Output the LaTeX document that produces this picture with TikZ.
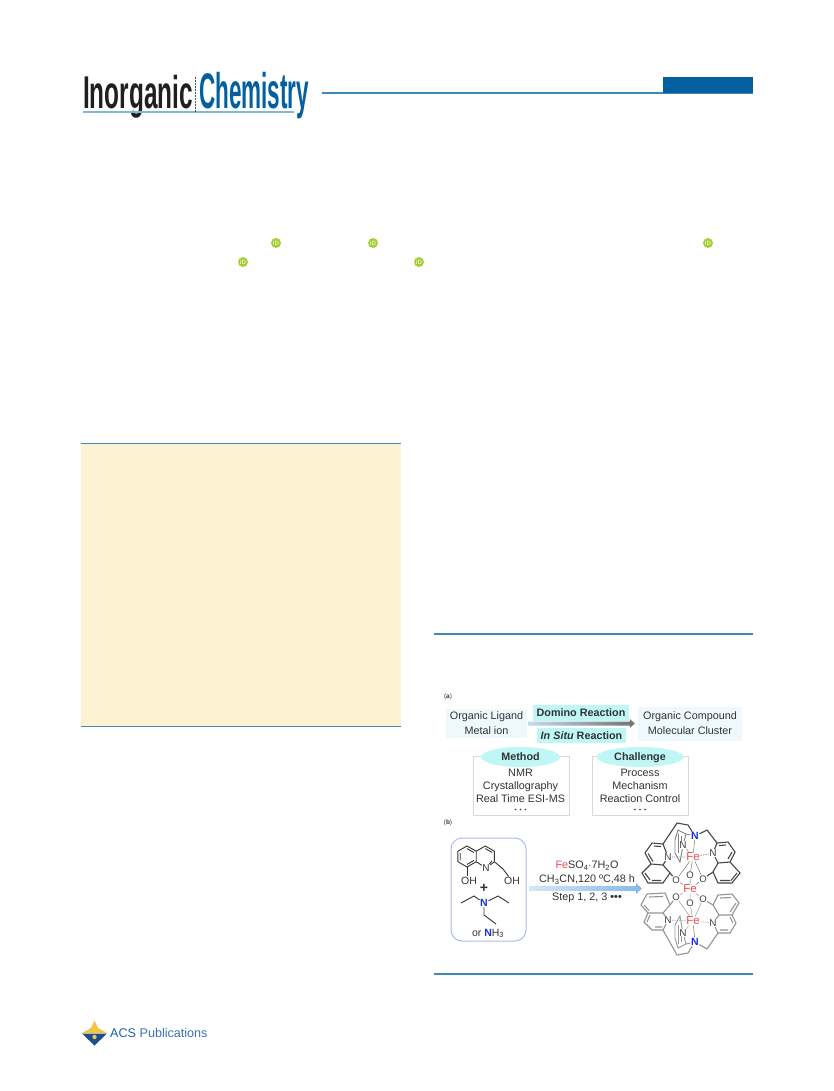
\documentclass[tikz,border=0pt]{standalone}
\usepackage{xcolor}
\usepackage{amsmath}
\usepackage{fontspec}
\setmainfont{Liberation Sans}
\usetikzlibrary{positioning,shapes,arrows,calc}

\definecolor{acsblue}{HTML}{045F9F}
\definecolor{rulecol}{HTML}{3F87B5}
\definecolor{titleline}{HTML}{7DB9D6}
\definecolor{paleblue}{HTML}{EFF8FD}
\definecolor{cyanbox}{HTML}{BFF6F6}
\definecolor{inktxt}{HTML}{333333}
\definecolor{nblue}{HTML}{1A2FE0}
\definecolor{fered}{HTML}{F0474F}
\definecolor{creamfill}{HTML}{FDF2D2}
\definecolor{orcidgreen}{HTML}{A6CE39}
\definecolor{roundline}{HTML}{AEB8F5}
\definecolor{arrowpale}{HTML}{D3E7F7}
\definecolor{arrowsky}{HTML}{86B9EA}
\definecolor{arrowstart}{HTML}{C3DBF0}
\definecolor{logogold}{HTML}{F5C542}
\definecolor{logonavy}{HTML}{1F4E8C}
\definecolor{acstext}{HTML}{1F5FA8}
\definecolor{pubtext}{HTML}{3B73B5}

\tikzset{
  pale/.style={fill=paleblue, align=center, inner sep=0pt, text=inktxt, font=\fontsize{10.8}{15}\selectfont},
  cyanlabel/.style={fill=cyanbox, inner sep=0pt, text=inktxt, font=\fontsize{10.8}{13}\selectfont\bfseries},
  cyanoval/.style={ellipse, fill=cyanbox, inner sep=0pt, text=inktxt, text height=8pt, text depth=2pt, font=\fontsize{10.8}{13}\selectfont\bfseries},
  listbox/.style={draw=black!15, line width=1pt, fill=white},
  listtxt/.style={align=center, text=inktxt, inner sep=0pt, font=\fontsize{10.8}{13}\selectfont},
  chem/.style={inner sep=.6pt, text=inktxt, font=\fontsize{10.5}{12}\selectfont},
  rxn/.style={inner sep=0pt, text=inktxt, font=\fontsize{10.8}{12}\selectfont},
  tag/.style={inner sep=0pt, text=inktxt, font=\fontsize{6.5}{8}\selectfont},
  orcid/.style={circle, fill=orcidgreen, minimum size=10pt, inner sep=0pt, text=white, font=\fontsize{6}{6}\selectfont},
  bond/.style={draw=inktxt, line width=.9pt},
  upper/.style={draw=black!72, line width=1.1pt},
  lower/.style={draw=black!42, line width=1.1pt},
  metal/.style={inner sep=.3pt, text=fered, font=\fontsize{11.5}{12}\selectfont},
  amine/.style={inner sep=.5pt, text=nblue, font=\fontsize{10.5}{11}\selectfont\bfseries},
  oxy/.style={inner sep=.2pt, text=black!75, font=\fontsize{9.5}{10}\selectfont},
  nitro/.style={inner sep=.4pt, text=black!75, font=\fontsize{10}{11}\selectfont},
}

\begin{document}
\begin{tikzpicture}[x=1pt, y=-1pt, >=stealth]
\useasboundingbox (0,0) rectangle (833,1091);

% header
\node[anchor=base west, inner sep=0pt, xscale=.53, text=black!88, font=\fontsize{46}{46}\selectfont\bfseries] (inorg) at (83,109) {Inorganic};
\node[anchor=base west, inner sep=0pt, xscale=.45, text=acsblue, font=\fontsize{50}{50}\selectfont\bfseries] (chem) at (199,109) {Chemistry};
\fill[titleline] (83,110.8) rectangle (294,112.6);
\draw[black!70, densely dotted, line width=.5pt] (195,77) -- (195,112);
\fill[rulecol] (322,92.2) rectangle (753,93.8);
\fill[acsblue] (663,77) rectangle (753,93);

% orcid marks
\foreach \i/\x/\y in {a/276/243, b/373/243, c/708/243, d/243/262, e/419/262}
  \node[orcid] (id\i) at (\x,\y) {iD};

% abstract box and rules
\fill[creamfill] (81,443) rectangle (401,726);
\draw[rulecol, line width=1pt] (81,443) -- (401,443);
\draw[rulecol, line width=1pt] (81,726) -- (401,726);
\draw[rulecol, line width=1.2pt] (434,634) -- (753,634);
\draw[rulecol, line width=1.2pt] (434,974) -- (753,974);

% scheme part a
\node[tag] (taga) at (448,697) {(\textbf{a})};
\node[pale, minimum width=81pt, minimum height=29pt] (ligand) at (486.5,723.5) {Organic Ligand\\Metal ion};
\node[pale, minimum width=104pt, minimum height=34pt] (compound) at (690,723.5) {Organic Compound\\Molecular Cluster};
\node[cyanlabel, minimum width=96pt, minimum height=16pt] (domino) at (581,712.5) {Domino Reaction};
\node[cyanlabel, minimum width=89pt, minimum height=15pt] (insitu) at (581.5,735.5) {\textit{In Situ} Reaction};
\shade[left color=arrowstart, right color=black!55]
  ($(ligand.east)+(1,-2)$) -- ($(compound.west)+(-8,-2)$) -- ($(compound.west)+(-8,-4.5)$)
  -- ($(compound.west)+(-3,0)$) -- ($(compound.west)+(-8,4.5)$) -- ($(compound.west)+(-8,2)$)
  -- ($(ligand.east)+(1,2)$) -- cycle;

\draw[listbox] (473,756) rectangle (569,815);
\draw[listbox] (592,756) rectangle (688,815);
\node[cyanoval, minimum width=79pt, minimum height=20pt] (method) at (520.5,757) {Method};
\node[cyanoval, minimum width=87pt, minimum height=20pt] (challenge) at (640,757) {Challenge};
\node[listtxt, below=11.5pt of method.center, anchor=north] (methodlist) {NMR\\Crystallography\\Real Time ESI-MS};
\node[listtxt, below=11.5pt of challenge.center, anchor=north] (challengelist) {Process\\Mechanism\\Reaction Control};
\foreach \x in {520.5, 640}
  \foreach \d in {-5,0,5}
    \fill[inktxt] (\x+\d,809.5) circle (.9pt);

% scheme part b
\node[tag] (tagb) at (448,823) {(\textbf{b})};
\node[draw=roundline, line width=1pt, rounded corners=11pt, minimum width=75pt, minimum height=103pt, inner sep=0pt] (reactant) at (488.5,889.5) {};

% quinolinol
\draw[bond] (476.2,851.2) -- (467,846) -- (457.9,851.2) -- (457.9,861.7) -- (467,867) -- (476.2,861.7) -- cycle;
\draw[bond] (476.2,851.2) -- (485.3,846) -- (494.4,851.2) -- (494.4,861.7);
\draw[bond] (467,848.6) -- (474,852.5) (460.2,853) -- (460.2,860.2) (467,864.4) -- (474,860.4);
\draw[bond] (485.3,848.6) -- (492.2,852.5);
\node[nitro, text=inktxt] (nq) at (486,868) {N};
\node[chem] (ohl) at (469,881) {OH};
\node[chem] (ohr) at (512,881) {OH};
\draw[bond] (494.4,861.7) -- (nq) -- (476.2,861.7);
\draw[bond] (491.8,861) -- (nq);
\draw[bond] (467,867) -- (ohl.north -| 467,875);
\draw[bond] (494.4,861.7) -- (503,869) -- (ohr);

% amine
\node[inner sep=0pt, text=inktxt, font=\fontsize{14}{14}\selectfont\bfseries] (plus) at (484,888) {+};
\node[amine] (nam) at (484,903) {N};
\coordinate (a1) at (474,896);
\coordinate (a2) at (461,903);
\coordinate (a3) at (498,896);
\coordinate (a4) at (509,903);
\coordinate (a5) at (484,915);
\coordinate (a6) at (496,924);
\draw[bond] (nam) -- (a1) -- (a2);
\draw[bond] (nam) -- (a3) -- (a4);
\draw[bond] (nam) -- (a5) -- (a6);
\node[chem, inner sep=0pt] (nh3) at (488,933.5) {or \textcolor{nblue}{\textbf{N}}H\textsubscript{3}};

% reaction arrow
\node[rxn] (rxna) at (587,865.5) {\textcolor{fered}{Fe}SO\textsubscript{4}$\cdot$7H\textsubscript{2}O};
\node[rxn] (rxnb) at (587,879.5) {CH\textsubscript{3}CN,120 ºC,48 h};
\node[rxn] (rxnc) at (587,898) {Step 1, 2, 3 \textbf{•••}};
\coordinate (rxnend) at (642,888.5);
\shade[left color=arrowpale, right color=arrowsky]
  ($(reactant.east |- rxnend)+(3,-2.4)$) -- ($(rxnend)+(-6,-2.4)$) -- ($(rxnend)+(-6,-5.5)$) -- (rxnend)
  -- ($(rxnend)+(-6,5.5)$) -- ($(rxnend)+(-6,2.4)$) -- ($(reactant.east |- rxnend)+(3,2.4)$) -- cycle;

% cluster
\node[metal] (fea) at (693,857) {Fe};
\node[metal] (feb) at (690,889) {Fe};
\node[metal] (fec) at (693,921) {Fe};
\node[amine] (nta) at (695,836) {N};
\node[amine] (ntb) at (695,942) {N};
\node[nitro] (nla) at (668,857) {N};
\node[nitro] (nra) at (713,853) {N};
\node[nitro] (nma) at (683,845) {N};
\node[nitro] (nlb) at (668,920) {N};
\node[nitro] (nrb) at (713,923) {N};
\node[nitro] (nmb) at (683,933) {N};
\node[oxy] (ola) at (676,880) {O};
\node[oxy] (oma) at (690,875) {O};
\node[oxy] (ora) at (703,879) {O};
\node[oxy] (olb) at (676,897) {O};
\node[oxy] (omb) at (690,903) {O};
\node[oxy] (orb) at (703,899) {O};

% thin metal bonds
\draw[black!55, line width=.5pt] (nta) -- (fea) (ntb) -- (fec) (fea) -- (ola) (fea) -- (ora) (fea) -- (oma) (oma) -- (feb) (ola) -- (feb) (ora) -- (feb);
\draw[black!40, line width=.5pt] (fec) -- (olb) (fec) -- (orb) (fec) -- (omb) (omb) -- (feb) (olb) -- (feb) (orb) -- (feb);
\draw[black!55, line width=.7pt, densely dotted] (nla) -- (fea) (nra) -- (fea) (nma) -- (fea);
\draw[black!40, line width=.7pt, densely dotted] (nlb) -- (fec) (nrb) -- (fec) (nmb) -- (fec);

% upper half
\draw[upper] (nla) -- (663,844) -- (652,843) -- (645,853) -- (651,864) -- (663,865) -- (nla);
\draw[upper] (651,864) -- (642,873) -- (648,883) -- (663,883) -- (670,873) -- (663,865);
\draw[upper] (670,873) -- (ola);
\draw[upper] (654,846) -- (661,846.5) (648,853.5) -- (653,861.5) (645,873) -- (650,880) (652,880.5) -- (661,880.5);
\draw[upper] (nra) -- (717,843) -- (728,842) -- (735,852) -- (730,862) -- (718,863) -- (nra);
\draw[upper] (730,862) -- (740,873) -- (732,883) -- (718,883) -- (713,872) -- (718,863);
\draw[upper] (713,872) -- (ora);
\draw[upper] (719,845.5) -- (726,845) (732,852) -- (728,859) (737,873) -- (731,880.5) (720,880.5) -- (730,880.5);
\draw[upper] (nta) -- (707,830) -- (717,843);
\draw[upper] (nta) -- (688,825) -- (677,823) -- (663,844);
\draw[black!50, line width=.9pt] (nta) -- (686,834) -- (678,830) -- (675,840) -- (675,853) -- (680,862) -- (nma) -- (686,834);
\draw[black!50, line width=.6pt] (678,834) -- (678,853) (681,836) -- (681,843);

% lower half
\draw[lower] (olb) -- (670,905) -- (665,893) -- (647,894) -- (641,905) -- (648,913) -- (663,913) -- (670,905);
\draw[lower] (663,913) -- (nlb) -- (663,930) -- (652,930) -- (644,922) -- (648,913);
\draw[lower] (649,897) -- (663,896.5) (644,905) -- (649,910.5) (655,927) -- (662,927) (647,922) -- (650,915);
\draw[lower] (orb) -- (713,905) -- (718,895) -- (732,894) -- (739,903) -- (732,915) -- (719,915) -- (713,905);
\draw[lower] (719,915) -- (nrb) -- (718,933) -- (730,933) -- (736,923) -- (732,915);
\draw[lower] (720,898) -- (731,897.5) (736,903) -- (730,912) (720,930) -- (728,930) (733,923) -- (730,917);
\draw[lower] (ntb) -- (707,949) -- (718,933);
\draw[lower] (ntb) -- (688,953) -- (677,955) -- (663,930);
\draw[black!40, line width=.9pt] (ntb) -- (686,944) -- (678,948) -- (675,938) -- (675,925) -- (680,916) -- (nmb) -- (686,944);
\draw[black!40, line width=.6pt] (678,944) -- (678,925) (681,942) -- (681,936);

% footer logo
\fill[logogold] (82,1033) -- (94.5,1026) -- (107,1033) -- cycle;
\fill[logogold] (90,1030) -- (94.5,1020.5) -- (99,1030) -- cycle;
\fill[logonavy] (82,1033.5) -- (107,1033.5) -- (94.5,1045.5) -- cycle;
\fill[logogold] (94.5,1037) circle (2.2pt);
\node[anchor=west, inner sep=0pt, text=acstext, font=\fontsize{12.6}{14}\selectfont] (acs) at (110,1032.5) {ACS \textcolor{pubtext}{Publications}};
\end{tikzpicture}
\end{document}
